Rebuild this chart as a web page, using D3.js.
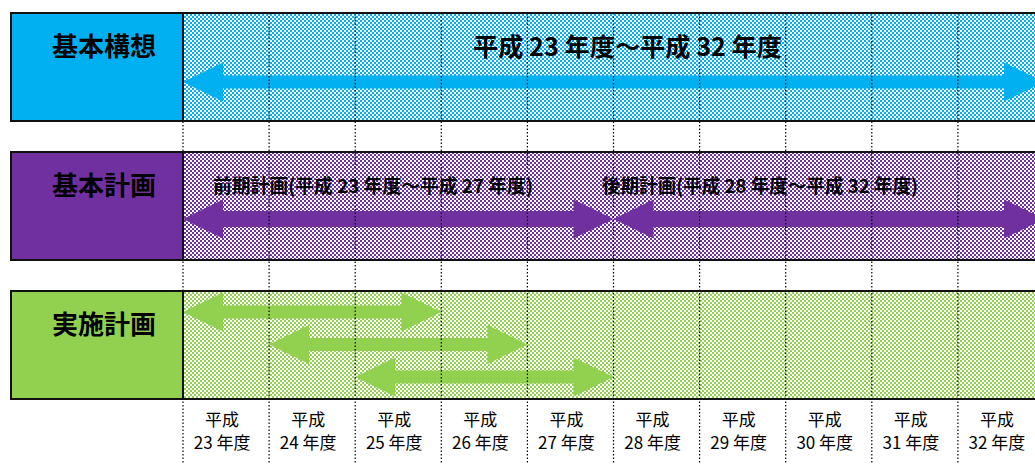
<!DOCTYPE html>
<html lang="ja">
<head>
    <meta charset="UTF-8">
    <title>計画期間</title>
    <script src="https://d3js.org/d3.v7.min.js"></script>
    <style>
        body { margin: 0; background: #fff; }
        text { font-family: "Noto Sans CJK JP", sans-serif; }
    </style>
</head>
<body>
    <svg width="1035" height="464"></svg>
    <script>
        // Data
        const years = [23, 24, 25, 26, 27, 28, 29, 30, 31, 32];
        const rows = ["基本構想", "基本計画", "実施計画"];
        const rowColors = ["#00b0f0", "#7030a0", "#92d050"];

        // arrows: [row, from year, to year (exclusive end), lane]
        const conceptArrows = [[0, 23, 33, 0]];
        const planArrows = [[1, 23, 28, 0], [1, 28, 33, 0]];
        const implArrows = [[2, 23, 26, 0], [2, 24, 27, 1], [2, 25, 28, 2]];

        const conceptLabel = "平成 23 年度～平成 32 年度";
        const planLabels = ["前期計画(平成 23 年度～平成 27 年度)", "後期計画(平成 28 年度～平成 32 年度)"];

        const svg = d3.select("svg");
        const W = 1035, H = 464;

        const x = d3.scaleLinear().domain([23, 33]).range([183, 1044]);
        const y = d3.scaleBand().domain(d3.range(rows.length))
            .range([13, 399]).paddingInner(0.223).paddingOuter(0);
        const bh = y.bandwidth();

        // hatch patterns
        const defs = svg.append("defs");
        rowColors.forEach((c, i) => {
            const p = defs.append("pattern")
                .attr("id", "hatch" + i)
                .attr("width", 4).attr("height", 4)
                .attr("patternUnits", "userSpaceOnUse");
            p.append("rect").attr("width", 4).attr("height", 4).attr("fill", "#fff");
            p.append("rect").attr("width", 2).attr("height", 2).attr("fill", c);
            p.append("rect").attr("x", 2).attr("y", 2).attr("width", 2).attr("height", 2).attr("fill", c);
        });

        // row backgrounds
        const rowG = svg.append("g");
        rows.forEach((r, i) => {
            rowG.append("rect")
                .attr("x", 183).attr("y", y(i))
                .attr("width", W - 183 + 10).attr("height", bh)
                .attr("fill", `url(#hatch${i})`);
            rowG.append("rect")
                .attr("x", 11).attr("y", y(i))
                .attr("width", 172).attr("height", bh)
                .attr("fill", rowColors[i]);
        });

        // arrows
        function arrowPath(x0, x1, cy, head, hh, sh) {
            return [
                [x0, cy], [x0 + head, cy - hh], [x0 + head, cy - sh],
                [x1 - head, cy - sh], [x1 - head, cy - hh], [x1, cy],
                [x1 - head, cy + hh], [x1 - head, cy + sh],
                [x0 + head, cy + sh], [x0 + head, cy + hh]
            ].map(p => p.join(",")).join(" ");
        }
        const laneY = (row, lane) => {
            if (row === 0) return y(row) + 69;
            if (row === 1) return y(row) + 67;
            return y(row) + 21 + lane * 32.5;
        };

        const allArrows = conceptArrows.concat(planArrows, implArrows);
        svg.append("g").selectAll("polygon")
            .data(allArrows)
            .join("polygon")
            .attr("points", d => arrowPath(x(d[1]), x(d[2]), laneY(d[0], d[3]), 40, 19.5, d[0] === 1 ? 8 : 6.5))
            .attr("fill", d => rowColors[d[0]]);

        // dotted year lines
        svg.append("g").selectAll("line")
            .data(years)
            .join("line")
            .attr("x1", d => x(d)).attr("x2", d => x(d))
            .attr("y1", y(0)).attr("y2", H)
            .attr("stroke", "#000").attr("stroke-width", 1.2)
            .attr("stroke-dasharray", "1.5,2");

        // borders
        rows.forEach((r, i) => {
            svg.append("rect")
                .attr("x", 11).attr("y", y(i))
                .attr("width", W + 10).attr("height", bh)
                .attr("fill", "none").attr("stroke", "#111").attr("stroke-width", 2);
            svg.append("line")
                .attr("x1", 183).attr("x2", 183)
                .attr("y1", y(i)).attr("y2", y(i) + bh)
                .attr("stroke", "#111").attr("stroke-width", 2);
        });

        // row titles
        svg.append("g").selectAll("text")
            .data(rows)
            .join("text")
            .attr("x", 104)
            .attr("y", (d, i) => y(i) + 43)
            .attr("text-anchor", "middle")
            .attr("font-size", 26)
            .attr("font-weight", "bold")
            .attr("fill", "#000")
            .text(d => d);

        // span labels
        svg.append("text")
            .attr("x", 473).attr("y", y(0) + 43)
            .attr("font-size", 25).attr("font-weight", "bold")
            .attr("textLength", 309).attr("lengthAdjust", "spacingAndGlyphs")
            .text(conceptLabel);

        svg.append("g").selectAll("text")
            .data(planLabels)
            .join("text")
            .attr("x", (d, i) => [213, 602][i])
            .attr("y", y(1) + 41)
            .attr("font-size", 19).attr("font-weight", "bold")
            .attr("textLength", (d, i) => [320, 316][i])
            .attr("lengthAdjust", "spacingAndGlyphs")
            .text(d => d);

        // year labels
        const yl = svg.append("g").selectAll("g")
            .data(years)
            .join("g")
            .attr("transform", d => `translate(${x(d + 0.5) - 4},0)`);
        yl.append("text")
            .attr("y", 426).attr("text-anchor", "middle")
            .attr("font-size", 17).text("平成");
        yl.append("text")
            .attr("y", 449).attr("text-anchor", "middle")
            .attr("font-size", 17).text(d => `${d} 年度`);
    </script>
</body>
</html>
